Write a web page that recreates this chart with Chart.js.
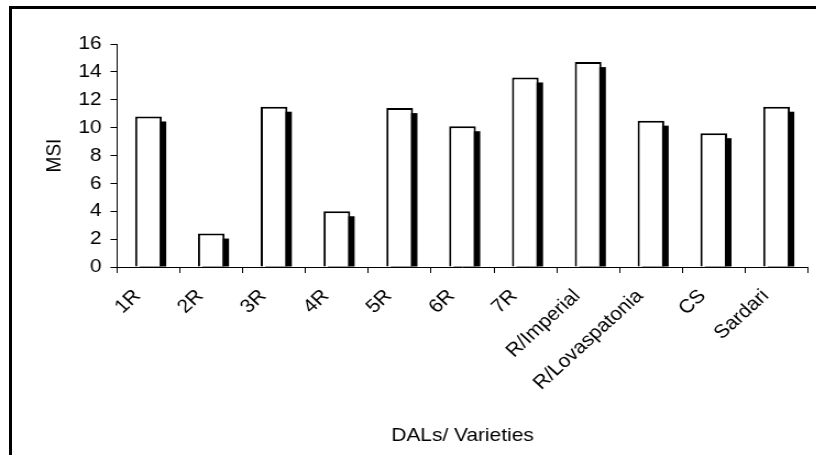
<!DOCTYPE html>
<html>

<head>
    <title>MSI by DALs / Varieties</title>
    <script src="https://cdn.jsdelivr.net/npm/chart.js@4.4.0/dist/chart.umd.min.js"></script>
    <style>
        html, body {
            margin: 0;
            padding: 0;
            background: #fff;
            overflow: hidden;
            width: 816px;
            height: 455px;
        }

        .frame {
            position: absolute;
            left: 9px;
            top: 6px;
            width: 900px;
            height: 600px;
            border: 3px solid #000;
        }

        /* the source picture is a little wider than it is tall, so stretch it */
        .wrap {
            position: absolute;
            left: 0;
            top: 0;
            width: 742px;
            height: 455px;
            transform: scaleX(1.1);
            transform-origin: 0 0;
        }
    </style>
</head>

<body>
    <div class="frame"></div>
    <div class="wrap">
        <canvas id="msi_chart"></canvas>
    </div>

    <script>
        const categories = ['1R', '2R', '3R', '4R', '5R', '6R', '7R', 'R/Imperial', 'R/Lovaspatonia', 'CS', 'Sardari'];
        const msiValues = [10.8, 2.4, 11.5, 4.0, 11.4, 10.1, 13.6, 14.7, 10.5, 9.6, 11.5];
        const yMin = 0;
        const yMax = 16;
        const yStep = 2;

        const fontFamily = '"Liberation Sans", Arial, sans-serif';

        // solid black shadow down and to the right of every bar,
        // taken from the bar elements the library has laid out
        const barShadow = {
            id: 'barShadow',
            beforeDatasetsDraw(chart) {
                const ctx = chart.ctx;
                const area = chart.chartArea;
                ctx.save();
                ctx.beginPath();
                ctx.rect(area.left, area.top, area.right - area.left, area.bottom - area.top);
                ctx.clip();
                ctx.fillStyle = '#000';
                chart.getDatasetMeta(0).data.forEach(bar => {
                    const { x, y, base, width } = bar.getProps(['x', 'y', 'base', 'width'], true);
                    ctx.fillRect(x - width / 2 + 4, y + 5, width, base - y - 5);
                });
                ctx.restore();
            }
        };

        new Chart(document.getElementById('msi_chart'), {
            type: 'bar',
            data: {
                labels: categories,
                datasets: [{
                    label: 'MSI',
                    data: msiValues,
                    backgroundColor: '#fff',
                    borderColor: '#000',
                    borderWidth: 2,
                    barPercentage: 0.425,
                    categoryPercentage: 1
                }]
            },
            options: {
                responsive: true,
                maintainAspectRatio: false,
                animation: false,
                layout: {
                    padding: { left: 0, right: 7.5, top: 44, bottom: 0 }
                },
                plugins: {
                    legend: { display: false },
                    tooltip: { enabled: false }
                },
                scales: {
                    x: {
                        grid: {
                            offset: true,
                            drawOnChartArea: false,
                            drawTicks: true,
                            tickLength: 6,
                            color: '#000'
                        },
                        border: { display: true, color: '#000', width: 1 },
                        ticks: {
                            color: '#000',
                            font: { family: fontFamily, size: 19 },
                            minRotation: 45,
                            maxRotation: 45,
                            autoSkip: false,
                            padding: 12,
                            labelOffset: -10
                        },
                        title: {
                            display: true,
                            text: 'DALs/ Varieties',
                            color: '#000',
                            font: { family: fontFamily, size: 19 },
                            padding: { top: 0, bottom: 8 }
                        },
                        afterFit(scale) {
                            scale.height = 188;
                        }
                    },
                    y: {
                        min: yMin,
                        max: yMax,
                        grid: {
                            drawOnChartArea: false,
                            drawTicks: true,
                            tickLength: 6,
                            color: '#000'
                        },
                        border: { display: true, color: '#000', width: 1 },
                        ticks: {
                            stepSize: yStep,
                            color: '#000',
                            font: { family: fontFamily, size: 19 },
                            padding: 8
                        },
                        title: {
                            display: true,
                            text: 'MSI',
                            color: '#000',
                            font: { family: fontFamily, size: 19 },
                            padding: { top: 38, bottom: 0 }
                        },
                        afterFit(scale) {
                            scale.width = 106.4;
                        }
                    }
                }
            },
            plugins: [barShadow]
        });
    </script>
</body>

</html>
